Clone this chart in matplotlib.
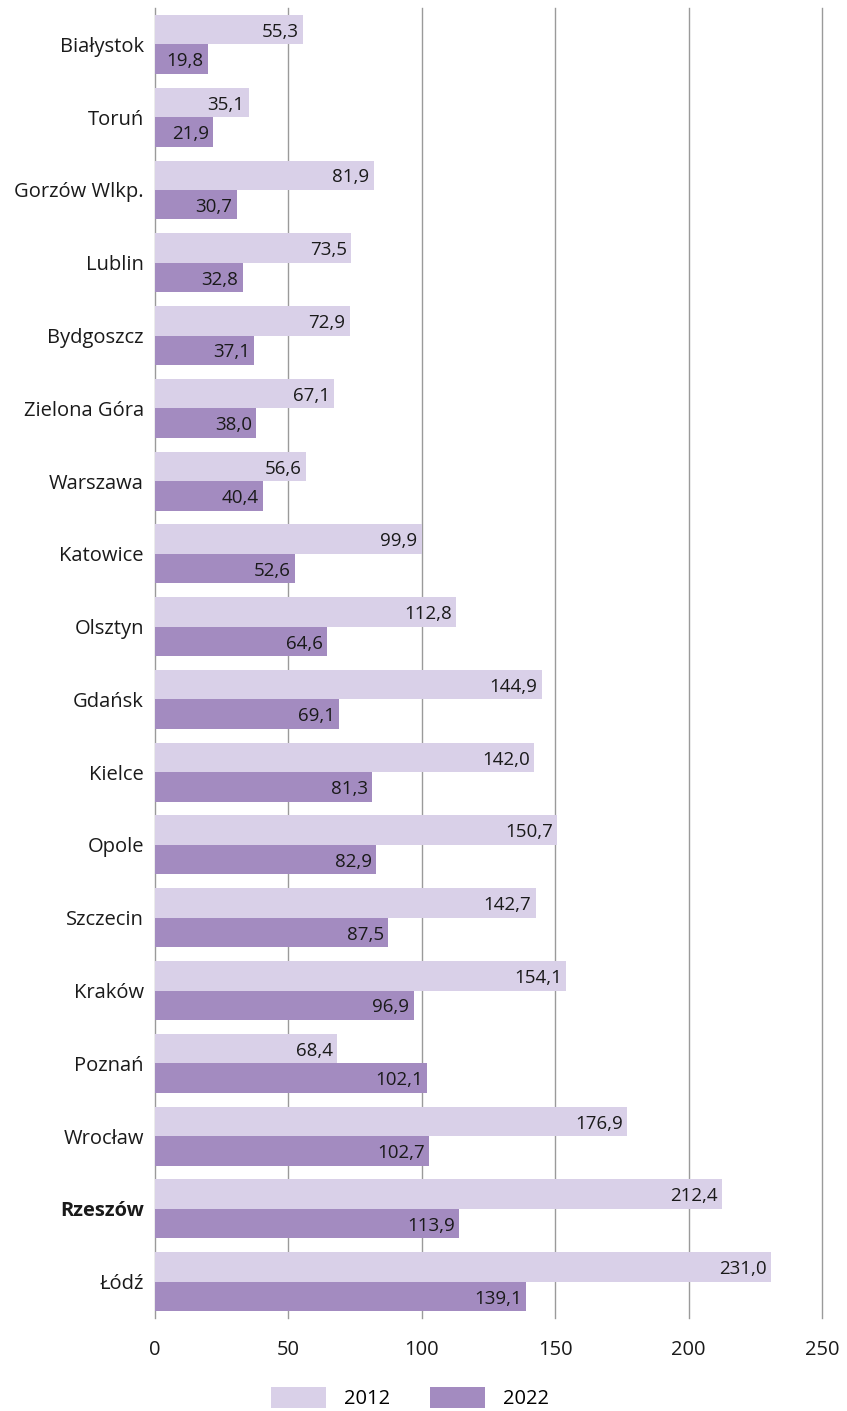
import matplotlib.pyplot as plt
import numpy as np

cities = ['Białystok', 'Toruń', 'Gorzów Wlkp.', 'Lublin', 'Bydgoszcz', 'Zielona Góra',
          'Warszawa', 'Katowice', 'Olsztyn', 'Gdańsk', 'Kielce', 'Opole', 'Szczecin',
          'Kraków', 'Poznań', 'Wrocław', 'Rzeszów', 'Łódź']
v2012 = [55.3, 35.1, 81.9, 73.5, 72.9, 67.1, 56.6, 99.9, 112.8, 144.9, 142.0, 150.7,
         142.7, 154.1, 68.4, 176.9, 212.4, 231.0]
v2022 = [19.8, 21.9, 30.7, 32.8, 37.1, 38.0, 40.4, 52.6, 64.6, 69.1, 81.3, 82.9,
         87.5, 96.9, 102.1, 102.7, 113.9, 139.1]
xticks = [0, 50, 100, 150, 200, 250]

c2012 = '#d9d0e8'
c2022 = '#a38bc0'

plt.rcParams['font.family'] = ['Open Sans', 'DejaVu Sans']

fig = plt.figure(figsize=(8.47, 14.11), dpi=100)
ax = fig.add_axes([0.183, 0.0659, 0.7875, 0.9284])

y = np.arange(len(cities))
h = 0.405
b1 = ax.barh(y - h / 2, v2012, height=h, color=c2012, label='2012', zorder=2)
b2 = ax.barh(y + h / 2, v2022, height=h, color=c2022, label='2022', zorder=2)

for bars, vals in ((b1, v2012), (b2, v2022)):
    for bar, v in zip(bars, vals):
        ax.text(v - 1.6, bar.get_y() + bar.get_height() / 2 + 0.03,
                f'{v:.1f}'.replace('.', ','), ha='right', va='center',
                fontsize=13.5, color='#1a1a1a', zorder=3)

ax.set_ylim(len(cities) - 0.5, -0.5)
ax.set_xlim(0, 250)
ax.set_yticks(y)
ax.set_yticklabels(cities, fontsize=14.5, color='#1a1a1a')
for lbl in ax.get_yticklabels():
    if lbl.get_text() == 'Rzeszów':
        lbl.set_fontweight('bold')
ax.set_xticks(xticks)
ax.set_xticklabels([str(t) for t in xticks], fontsize=14.5, color='#1a1a1a')
ax.tick_params(axis='both', length=0)
ax.tick_params(axis='x', pad=16)
ax.tick_params(axis='y', pad=8)
ax.grid(axis='x', color='#9a9a9a', linewidth=1, zorder=0)
for gl in ax.get_xgridlines():
    gl.set_clip_on(False)
for s in ax.spines.values():
    s.set_visible(False)

fig.legend(handles=[b1, b2], labels=['2012', '2022'], loc='center',
           bbox_to_anchor=(0.484, 0.009), ncol=2, frameon=False, fontsize=14.5,
           handlelength=2.7, handleheight=1.2, columnspacing=2.0, handletextpad=0.9)

fig.savefig('out.png', dpi=100)
